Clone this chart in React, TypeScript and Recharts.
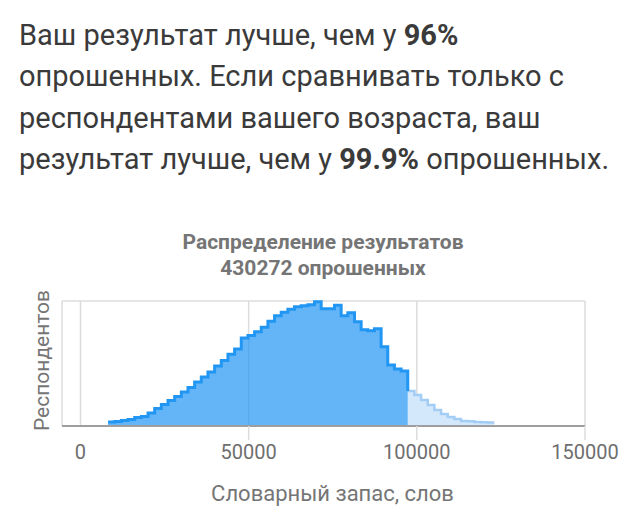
import React from 'react';
import { AreaChart, Area, XAxis, YAxis, CartesianGrid, ReferenceLine } from 'recharts';

// Bin edges of the histogram (vocabulary size, words)
const binEdges = [
  8200, 10180, 12160, 14140, 16120, 18100, 20080, 22060, 24040, 26020,
  28000, 29980, 31960, 33940, 35920, 37900, 39880, 41860, 43840, 45820,
  47800, 49780, 51760, 53740, 55720, 57700, 59680, 61660, 63640, 65620,
  67600, 69580, 71560, 73540, 75520, 77500, 79480, 81460, 83440, 85420,
  87400, 89380, 91360, 93340, 95320, 97300, 99280, 101260, 103240, 105220,
  107200, 109180, 111160, 113140, 115120, 117100, 119080, 121060, 123040,
];

// Respondents per bin (estimated)
const counts = [
  510, 580, 700, 830, 1090, 1220, 1670, 2240, 2760, 3270,
  3780, 4360, 4940, 5640, 6280, 6920, 7690, 8400, 9170, 9870,
  11280, 11600, 12050, 12630, 13400, 14100, 14550, 14940, 15260, 15380,
  15510, 15900, 15000, 15000, 15470, 14100, 14490, 13330, 12310, 12180,
  12440, 10130, 7820, 7310, 7050,
  4490, 3970, 3330, 2690, 2050, 1540, 1150, 900, 640, 620,
  510, 470, 450,
];

// index of the first bin above the user's result
const firstLightBin = 45;

const xTicks = [0, 50000, 100000, 150000];
const yTicks = [0, 4000, 8000, 12000, 16000];

const chartTitle = ['Распределение результатов', '430272 опрошенных'];
const xTitle = 'Словарный запас, слов';
const yTitle = 'Респондентов';

const paragraph = [
  ['Ваш результат лучше, чем у ', '96%', ''],
  ['опрошенных. Если сравнивать только с', '', ''],
  ['респондентами вашего возраста, ваш', '', ''],
  ['результат лучше, чем у ', '99.9%', ' опрошенных.'],
];

const rows = binEdges.map((x, k) => {
  const v = k < counts.length ? counts[k] : counts[counts.length - 1];
  return {
    x,
    dark: k < firstLightBin ? v : k === firstLightBin ? counts[firstLightBin] : null,
    light: k >= firstLightBin ? v : null,
  };
});

const FONT = 'Roboto, sans-serif';

const XTick = (props: any) => {
  const { x, y, payload } = props;
  return (
    <g>
      {payload.value !== 0 && (
        <line x1={x} x2={x} y1={y} y2={y + 14} stroke="#dcdcdc" strokeWidth={1.5} />
      )}
      <text x={x} y={y + 33} textAnchor="middle" fill="#6e6e6e" fontSize={20} fontFamily={FONT}>
        {payload.value}
      </text>
    </g>
  );
};

const XTitle = (props: any) => {
  const vb = props.viewBox || {};
  return (
    <text
      x={vb.x + vb.width / 2 + 9}
      y={vb.y + 75}
      textAnchor="middle"
      fill="#757575"
      fontSize={22}
      fontFamily={FONT}
    >
      {xTitle}
    </text>
  );
};

const YTitle = (props: any) => {
  const vb = props.viewBox || {};
  const cx = 42;
  const cy = vb.y + vb.height / 2 - 3;
  return (
    <text
      x={cx}
      y={cy}
      transform={`rotate(-90 ${cx} ${cy})`}
      textAnchor="middle"
      dominantBaseline="central"
      fill="#757575"
      fontSize={21}
      fontFamily={FONT}
    >
      {yTitle}
    </text>
  );
};

export default function App() {
  return (
    <div
      style={{
        position: 'absolute',
        left: 0,
        top: 0,
        width: 640,
        height: 522,
        background: '#fff',
        overflow: 'hidden',
        fontFamily: FONT,
      }}
    >
      <div
        style={{
          position: 'absolute',
          left: 19,
          top: 14.6,
          fontSize: 29,
          lineHeight: '41.5px',
          color: '#3a3a3a',
          whiteSpace: 'nowrap',
        }}
      >
        {paragraph.map((l, i) => (
          <div key={i}>
            {l[0]}
            {l[1] && <b>{l[1]}</b>}
            {l[2]}
          </div>
        ))}
      </div>
      <div
        style={{
          position: 'absolute',
          left: 0,
          width: 646,
          top: 229.3,
          textAlign: 'center',
          fontSize: 21,
          lineHeight: '26px',
          fontWeight: 'bold',
          color: '#757575',
        }}
      >
        {chartTitle.map((t, i) => (
          <div key={i}>{t}</div>
        ))}
      </div>
      <div style={{ position: 'absolute', left: 0, top: 0 }}>
        <AreaChart
          width={640}
          height={522}
          data={rows}
          margin={{ top: 301, right: 55, left: 0, bottom: 0 }}
        >
          <CartesianGrid stroke="#dcdcdc" strokeWidth={1.5} />
          <XAxis
            type="number"
            dataKey="x"
            domain={[-5500, 150000]}
            ticks={xTicks}
            interval={0}
            allowDataOverflow
            height={96}
            tickSize={0}
            tickMargin={0}
            tickLine={false}
            axisLine={false}
            tick={<XTick />}
            label={<XTitle />}
          />
          <YAxis
            type="number"
            domain={[0, 16000]}
            ticks={yTicks}
            width={62}
            tick={false}
            tickLine={false}
            axisLine={false}
            label={<YTitle />}
          />
          <Area
            type="stepAfter"
            dataKey="light"
            stroke="#a3cdf5"
            strokeWidth={2.5}
            fill="#d3e8fb"
            fillOpacity={1}
            isAnimationActive={false}
            dot={false}
            activeDot={false}
          />
          <Area
            type="stepAfter"
            dataKey="dark"
            stroke="#2196f3"
            strokeWidth={3}
            fill="#2196f3"
            fillOpacity={0.7}
            isAnimationActive={false}
            dot={false}
            activeDot={false}
          />
          <ReferenceLine y={0} stroke="#9e9e9e" strokeWidth={2} />
        </AreaChart>
      </div>
    </div>
  );
}
